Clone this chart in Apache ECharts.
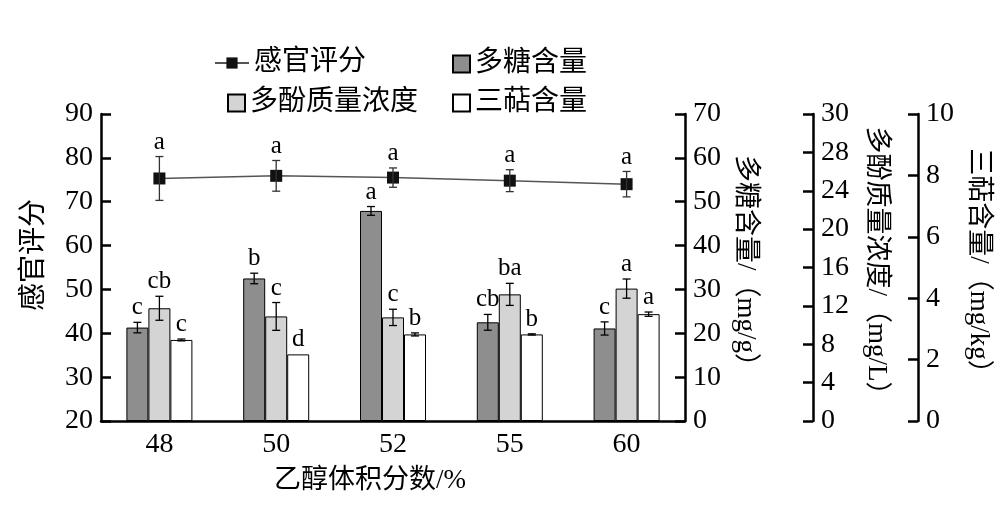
<!DOCTYPE html>
<html><head><meta charset="utf-8">
<script src="https://cdn.jsdelivr.net/npm/echarts@6/dist/echarts.min.js"></script>
<style>html,body{margin:0;padding:0;background:#fff}#c{width:1008px;height:508px}</style>
</head><body><div id="c"></div>
<script>
// ---- data ----
const categories = ['48', '50', '52', '55', '60'];
const sensory = [75.3, 75.9, 75.5, 74.8, 74.0];
const sensoryErr = [5.0, 3.5, 2.2, 2.5, 2.9];
const sensoryLetters = ['a', 'a', 'a', 'a', 'a'];
const polysaccharide = [21.3, 32.5, 47.9, 22.5, 21.1];
const polysaccharideErr = [1.2, 1.2, 1.0, 1.8, 1.5];
const polysaccharideLetters = ['c', 'b', 'a', 'cb', 'c'];
const polyphenol = [11.75, 10.9, 10.8, 13.2, 13.8];
const polyphenolErr = [1.25, 1.45, 0.85, 1.15, 1.0];
const polyphenolLetters = ['cb', 'c', 'c', 'ba', 'a'];
const triterpene = [2.64, 2.17, 2.82, 2.82, 3.48];
const triterpeneErr = [0.03, 0, 0.05, 0.02, 0.07];
const triterpeneLetters = ['c', 'd', 'b', 'b', 'a'];
// polyphenol axis: ticks every 4, the top tick is printed "30" in the original figure
const polyphenolTickValues = [0, 4, 8, 12, 16, 20, 24, 28, 32];
const polyphenolTickLabels = ['0', '4', '8', '12', '16', '20', '24', '28', '30'];

const FONT = "'Liberation Serif', 'Noto Sans CJK SC', serif";
const BAR_W = 22;

function errData(vals, errs) {
  return vals.map((v, i) => [i, v - errs[i], v + errs[i]]);
}
function errRender(offsetIdx, letters, color) {
  return function (params, api) {
    const i = api.value(0);
    const lo = api.coord([i, api.value(1)]);
    const hi = api.coord([i, api.value(2)]);
    const x = lo[0] + offsetIdx * BAR_W;
    const cap = 4;
    const st = { stroke: color, lineWidth: 1.3 };
    const children = [];
    if (Math.abs(lo[1] - hi[1]) > 0.5) {
      children.push({ type: 'line', shape: { x1: x, y1: lo[1], x2: x, y2: hi[1] }, style: st });
      children.push({ type: 'line', shape: { x1: x - cap, y1: lo[1], x2: x + cap, y2: lo[1] }, style: st });
      children.push({ type: 'line', shape: { x1: x - cap, y1: hi[1], x2: x + cap, y2: hi[1] }, style: st });
    }
    children.push({
      type: 'text',
      style: { text: letters[params.dataIndex], x: x, y: hi[1] - 2, align: 'center', verticalAlign: 'bottom',
        fontSize: 25, fontFamily: FONT, fill: '#000' }
    });
    return { type: 'group', children: children };
  };
}

const axisCommon = {
  type: 'value',
  splitLine: { show: false },
  axisLine: { show: true, lineStyle: { color: '#000', width: 2.5 } },
  axisTick: { show: true, inside: true, length: 10, lineStyle: { color: '#000', width: 2.5 } },
  axisLabel: { color: '#000', fontSize: 28, fontFamily: FONT, margin: 8, showMaxLabel: true, showMinLabel: true, hideOverlap: false },
  nameLocation: 'middle',
  nameTextStyle: { color: '#000', fontSize: 27, fontFamily: FONT }
};

const legendCommon = { padding: 0, textStyle: { color: '#000', fontSize: 28, fontFamily: FONT }, itemGap: 0, selectedMode: false };

const option = {
  animation: false,
  backgroundColor: '#fff',
  textStyle: { fontFamily: FONT },
  grid: { left: 101, right: 323, top: 114, bottom: 87 },
  legend: [
    Object.assign({}, legendCommon, { data: ['感官评分'], left: 214, top: 49, itemWidth: 34, itemHeight: 14 }),
    Object.assign({}, legendCommon, { data: [{ name: '多糖含量', icon: 'rect' }], left: 452, top: 50, itemWidth: 17, itemHeight: 17 }),
    Object.assign({}, legendCommon, { data: [{ name: '多酚质量浓度', icon: 'rect' }], left: 227, top: 89, itemWidth: 17, itemHeight: 17 }),
    Object.assign({}, legendCommon, { data: [{ name: '三萜含量', icon: 'rect' }], left: 452, top: 89, itemWidth: 17, itemHeight: 17 })
  ],
  xAxis: {
    type: 'category',
    data: categories,
    axisLine: { lineStyle: { color: '#000', width: 2.5 } },
    axisTick: { inside: true, length: 10, lineStyle: { color: '#000', width: 2.5 } },
    axisLabel: { color: '#000', fontSize: 28, fontFamily: FONT, margin: 10 },
    name: '乙醇体积分数/%',
    nameLocation: 'middle',
    nameGap: 46,
    nameTextStyle: { color: '#000', fontSize: 27, fontFamily: FONT, padding: [0, 46, 0, 0] }
  },
  yAxis: [
    Object.assign({}, axisCommon, { min: 20, max: 90, interval: 10, position: 'left', name: '感官评分', nameRotate: 90, nameGap: 52,
      nameTextStyle: { color: '#000', fontSize: 28, fontFamily: FONT, padding: [0, 0, 0, 25] } }),
    Object.assign({}, axisCommon, { min: 0, max: 70, interval: 10, position: 'right', offset: 0, name: '多糖含量/（mg/g）', nameRotate: -90, nameGap: 45 }),
    Object.assign({}, axisCommon, { min: 0, max: 32, interval: 4, position: 'right', offset: 128, name: '多酚质量浓度/（mg/L）', nameRotate: -90, nameGap: 50,
      axisLabel: { color: '#000', fontSize: 28, fontFamily: FONT, margin: 8, showMaxLabel: true, showMinLabel: true, hideOverlap: false,
        formatter: function (v) { const k = polyphenolTickValues.indexOf(v); return k >= 0 ? polyphenolTickLabels[k] : String(v); } } }),
    Object.assign({}, axisCommon, { min: 0, max: 10, interval: 2, position: 'right', offset: 233, name: '三萜含量/（mg/kg）', nameRotate: -90, nameGap: 42 })
  ],
  series: [
    { name: '多糖含量', type: 'bar', yAxisIndex: 1, data: polysaccharide, barWidth: BAR_W, barGap: '0%',
      itemStyle: { color: '#8e8e8e', borderColor: '#000', borderWidth: 1 } },
    { name: '多酚质量浓度', type: 'bar', yAxisIndex: 2, data: polyphenol, barWidth: BAR_W, barGap: '0%',
      itemStyle: { color: '#d4d4d4', borderColor: '#000', borderWidth: 1 } },
    { name: '三萜含量', type: 'bar', yAxisIndex: 3, data: triterpene, barWidth: BAR_W, barGap: '0%',
      itemStyle: { color: '#ffffff', borderColor: '#000', borderWidth: 1 } },
    { name: '感官评分', type: 'line', yAxisIndex: 0, data: sensory, symbol: 'rect', symbolSize: 12, z: 5,
      itemStyle: { color: '#111' }, lineStyle: { color: '#555', width: 1.5 } },
    { type: 'custom', yAxisIndex: 0, data: errData(sensory, sensoryErr), encode: { x: 0, y: [1, 2] }, z: 6,
      renderItem: errRender(0, sensoryLetters, '#333') },
    { type: 'custom', yAxisIndex: 1, data: errData(polysaccharide, polysaccharideErr), encode: { x: 0, y: [1, 2] }, z: 6,
      renderItem: errRender(-1, polysaccharideLetters, '#000') },
    { type: 'custom', yAxisIndex: 2, data: errData(polyphenol, polyphenolErr), encode: { x: 0, y: [1, 2] }, z: 6,
      renderItem: errRender(0, polyphenolLetters, '#000') },
    { type: 'custom', yAxisIndex: 3, data: errData(triterpene, triterpeneErr), encode: { x: 0, y: [1, 2] }, z: 6,
      renderItem: errRender(1, triterpeneLetters, '#000') }
  ]
};
const chart = echarts.init(document.getElementById('c'), null, { renderer: 'canvas' });
chart.setOption(option);
</script></body></html>
